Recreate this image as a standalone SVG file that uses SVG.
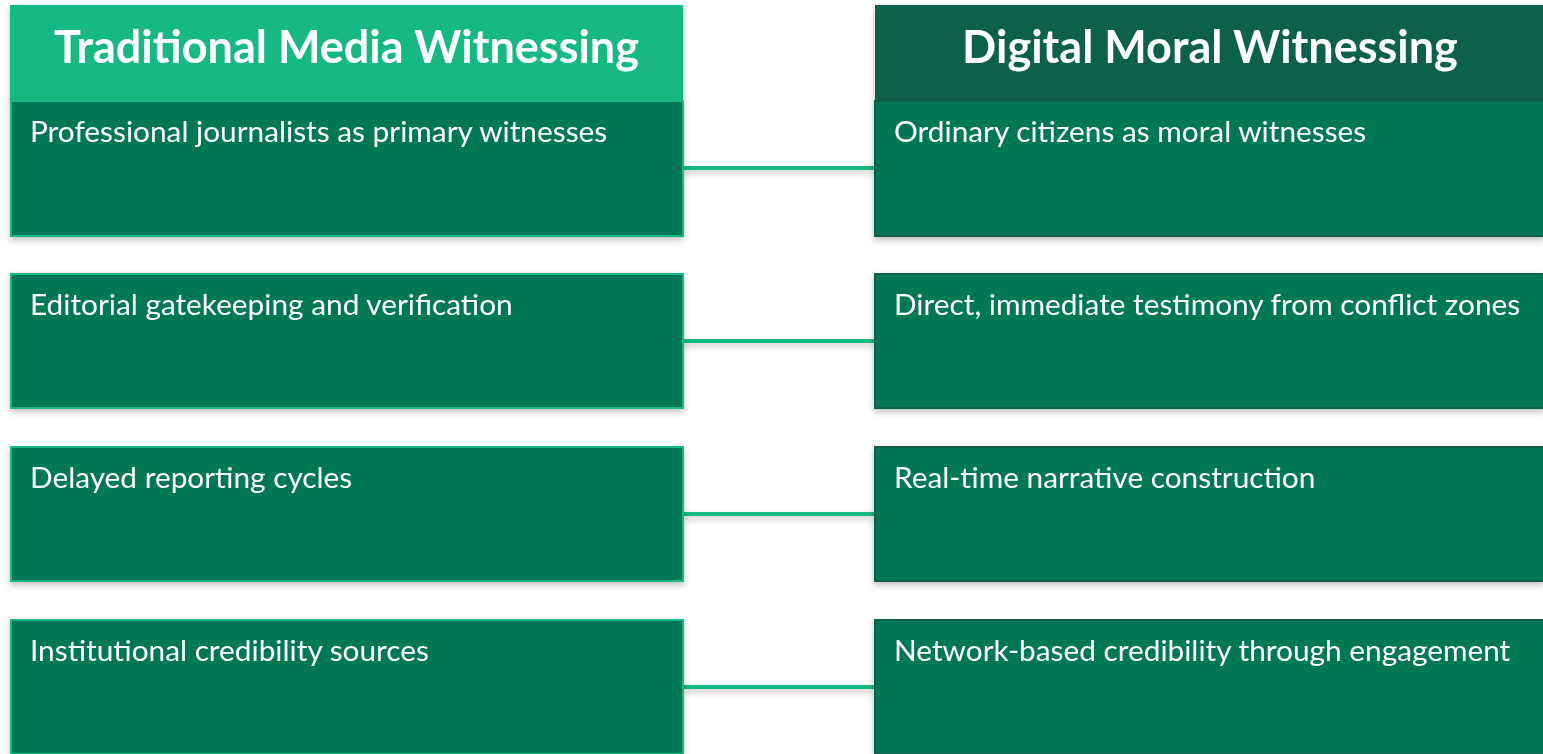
<svg xmlns="http://www.w3.org/2000/svg" width="1543" height="754" viewBox="0 0 1543 754">
<defs>
<filter id="sh" x="-5%" y="-10%" width="110%" height="130%">
<feDropShadow dx="0" dy="3" stdDeviation="3" flood-color="#000" flood-opacity="0.25"/>
</filter>
<style>
.hl{fill:#12b981;}
.hr{fill:#08604a;}
.bl{fill:#067857;stroke:#12b981;stroke-width:2;}
.br{fill:#067857;stroke:#08604a;stroke-width:2;}
.ht{font-family:Lato,"Liberation Sans",sans-serif;font-weight:bold;font-size:45px;fill:#fff;text-anchor:middle;}
.bt{font-family:Lato,"Liberation Sans",sans-serif;font-size:29.8px;fill:#fff;}
.c{stroke:#12b981;stroke-width:4;fill:none;}
</style>
</defs>
<rect width="1543" height="754" fill="#fff"/>
<g id="connectors" filter="url(#sh)">
<line class="c" x1="683" y1="168" x2="874" y2="168"/>
<line class="c" x1="683" y1="341" x2="874" y2="341"/>
<line class="c" x1="683" y1="514" x2="874" y2="514"/>
<line class="c" x1="683" y1="687" x2="874" y2="687"/>
</g>
<g id="header-left" filter="url(#sh)">
<rect class="hl" x="10" y="5" width="673" height="96"/>
<text class="ht" x="346.5" y="63">Traditional Media Witnessing</text>
</g>
<g id="header-right" filter="url(#sh)">
<rect class="hr" x="875" y="5" width="668" height="96"/>
<text class="ht" x="1210" y="63">Digital Moral Witnessing</text>
</g>
<g id="left-1" filter="url(#sh)">
<rect class="bl" x="11" y="101" width="672" height="135"/>
<text class="bt" x="30" y="142">Professional journalists as primary witnesses</text>
</g>
<g id="left-2" filter="url(#sh)">
<rect class="bl" x="11" y="274" width="672" height="134"/>
<text class="bt" x="30" y="315">Editorial gatekeeping and verification</text>
</g>
<g id="left-3" filter="url(#sh)">
<rect class="bl" x="11" y="447" width="672" height="134"/>
<text class="bt" x="30" y="488">Delayed reporting cycles</text>
</g>
<g id="left-4" filter="url(#sh)">
<rect class="bl" x="11" y="620" width="672" height="134"/>
<text class="bt" x="30" y="661">Institutional credibility sources</text>
</g>
<g id="right-1" filter="url(#sh)">
<rect class="br" x="875" y="101" width="669" height="135"/>
<text class="bt" x="894" y="142">Ordinary citizens as moral witnesses</text>
</g>
<g id="right-2" filter="url(#sh)">
<rect class="br" x="875" y="274" width="669" height="134"/>
<text class="bt" x="894" y="315">Direct, immediate testimony from conflict zones</text>
</g>
<g id="right-3" filter="url(#sh)">
<rect class="br" x="875" y="447" width="669" height="134"/>
<text class="bt" x="894" y="488">Real-time narrative construction</text>
</g>
<g id="right-4" filter="url(#sh)">
<rect class="br" x="875" y="620" width="669" height="134"/>
<text class="bt" x="894" y="661">Network-based credibility through engagement</text>
</g>
</svg>
